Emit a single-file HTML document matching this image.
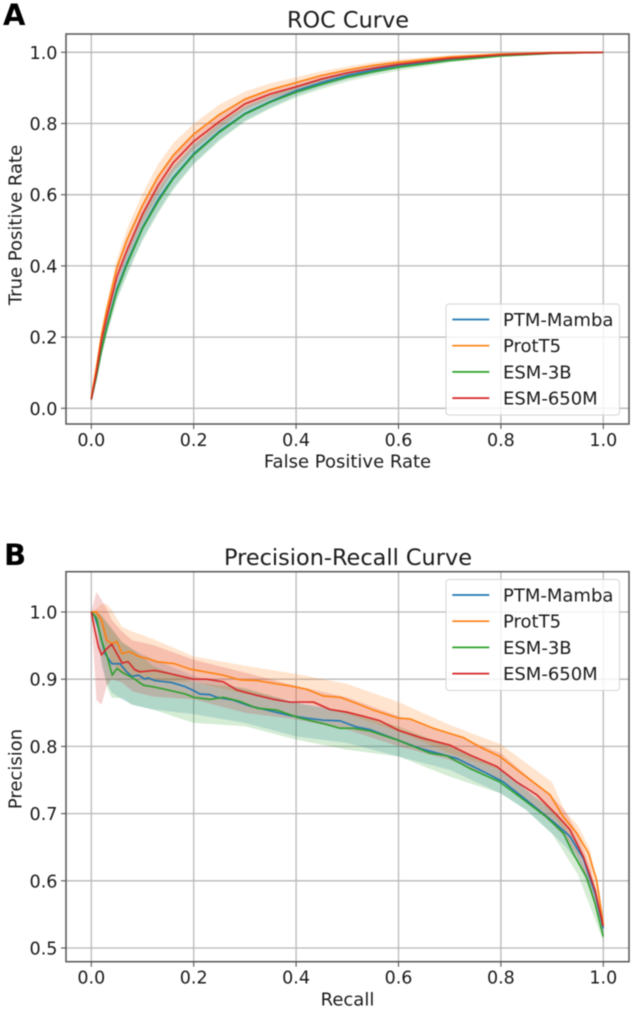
<!DOCTYPE html>
<html lang="en">
<head>
<meta charset="utf-8">
<title>ROC and Precision-Recall Curves</title>
<style>
html,body{margin:0;padding:0;background:#fff;width:633px;height:1009px;overflow:hidden}
svg{display:block;filter:blur(.4px)}
text{font-family:"DejaVu Sans","Liberation Sans",sans-serif;fill:#1a1a1a}
</style>
</head>
<body>
<svg id="figure" xmlns="http://www.w3.org/2000/svg" width="633" height="1009" viewBox="0 0 633 1009">
<text x="3" y="25" font-size="29" font-weight="bold" style="fill:#000">A</text>
<text x="4" y="565" font-size="29" font-weight="bold" style="fill:#000">B</text>
</svg>
<script>
const seriesNames = ['PTM-Mamba', 'ProtT5', 'ESM-3B', 'ESM-650M'];
const xTickValues = [0, 0.2, 0.4, 0.6, 0.8, 1];
const xTickLabels = ['0.0', '0.2', '0.4', '0.6', '0.8', '1.0'];
const rocYTickValues = [0, 0.2, 0.4, 0.6, 0.8, 1];
const rocYTickLabels = ['0.0', '0.2', '0.4', '0.6', '0.8', '1.0'];
const prYTickValues = [0.5, 0.6, 0.7, 0.8, 0.9, 1];
const prYTickLabels = ['0.5', '0.6', '0.7', '0.8', '0.9', '1.0'];

const rocFpr = [0,.01,.02,.03,.05,.07,.1,.13,.16,.2,.25,.3,.35,.4,.45,.5,.55,.6,.7,.8,.9,1];
const rocTprMamba = [.025,.09,.165,.228,.335,.41,.508,.585,.648,.715,.778,.828,.862,.892,.915,.935,.95,.963,.981,.992,.998,1];
const rocTprProtT5 = [.03,.115,.205,.275,.395,.475,.57,.65,.71,.77,.825,.868,.895,.915,.935,.95,.963,.972,.987,.995,.999,1];
const rocTprEsm3b = [.025,.09,.165,.225,.33,.405,.505,.58,.645,.712,.775,.826,.86,.888,.91,.93,.945,.958,.977,.99,.997,1];
const rocTprEsm650 = [.025,.1,.19,.255,.37,.445,.545,.625,.69,.75,.805,.855,.883,.903,.925,.942,.955,.966,.983,.993,.998,1];
const rocStdMamba = [.005,.012,.018,.021,.026,.03,.033,.033,.03,.027,.023,.02,.017,.014,.012,.011,.01,.008,.005,.003,.001,0];
const rocStdProtT5 = [.005,.012,.018,.02,.025,.03,.033,.035,.035,.03,.028,.022,.018,.015,.012,.01,.009,.008,.005,.003,.001,0];
const rocStdEsm3b = [.005,.012,.019,.022,.027,.031,.034,.034,.031,.027,.024,.021,.018,.015,.013,.012,.011,.01,.006,.003,.001,0];
const rocStdEsm650 = [.005,.012,.016,.018,.02,.024,.026,.028,.026,.024,.02,.017,.014,.012,.01,.009,.008,.007,.004,.002,.001,0];

const prRecallMamba = [0,.007,.017,.027,.04,.056,.069,.079,.092,.105,.111,.124,.157,.183,.2,.212,.232,.245,.277,.31,.343,.388,.421,.453,.486,.518,.544,.6,.642,.714,.772,.805,.85,.902,.935,.961,.984,1];
const prPrecisionMamba = [1,.993,.968,.938,.923,.923,.911,.904,.906,.9,.902,.898,.895,.889,.883,.878,.877,.873,.869,.86,.854,.846,.842,.839,.838,.829,.825,.809,.797,.782,.76,.747,.72,.688,.666,.633,.581,.529];
const prRecallProtT5 = [0,.01,.02,.03,.04,.05,.06,.075,.092,.108,.128,.163,.193,.258,.29,.323,.388,.421,.453,.486,.518,.551,.6,.622,.668,.727,.759,.798,.837,.896,.922,.948,.971,.987,1];
const prPrecisionProtT5 = [1,1,.988,.958,.953,.956,.938,.941,.934,.931,.926,.923,.915,.906,.899,.898,.89,.885,.875,.873,.864,.854,.842,.841,.827,.813,.799,.785,.762,.728,.695,.671,.641,.601,.535];
const prRecallEsm3b = [0,.01,.02,.03,.041,.05,.0625,.079,.102,.118,.144,.183,.2,.232,.258,.29,.323,.362,.408,.453,.486,.512,.544,.6,.661,.694,.74,.798,.837,.889,.922,.941,.967,.984,1];
const prPrecisionEsm3b = [1,.991,.958,.936,.906,.916,.909,.903,.891,.889,.885,.878,.873,.87,.873,.867,.857,.854,.842,.834,.827,.827,.823,.809,.79,.786,.767,.747,.725,.695,.671,.641,.606,.566,.517];
const prRecallEsm650 = [0,.007,.014,.02,.027,.04,.053,.06,.072,.085,.095,.124,.15,.183,.2,.225,.258,.284,.323,.356,.388,.434,.466,.499,.531,.564,.6,.648,.7,.74,.792,.831,.87,.909,.935,.961,.984,1];
const prPrecisionEsm650 = [1,.973,.948,.936,.943,.952,.934,.924,.926,.914,.911,.913,.909,.903,.9,.9,.896,.884,.876,.87,.866,.866,.855,.851,.845,.838,.824,.812,.802,.787,.77,.747,.728,.698,.676,.636,.586,.532];

const prBandRecall = [0,.01,.02,.03,.04,.06,.08,.12,.2,.3,.4,.5,.6,.7,.8,.85,.9,.925,.95,.975,1];
const prUpperMamba = [1,1,.995,.985,.975,.955,.945,.93,.905,.885,.865,.852,.825,.8,.765,.735,.705,.687,.658,.612,.533];
const prLowerMamba = [1,.985,.92,.895,.88,.87,.862,.855,.848,.835,.815,.805,.785,.765,.73,.705,.67,.652,.628,.585,.525];
const prUpperProtT5 = [1,1.005,1.012,1.012,1.003,.978,.971,.96,.934,.92,.908,.893,.866,.832,.803,.775,.747,.703,.683,.645,.54];
const prLowerProtT5 = [1,.99,.975,.945,.925,.91,.905,.897,.896,.878,.868,.848,.822,.79,.765,.74,.7,.675,.65,.61,.53];
const prUpperEsm3b = [1,1,.995,.985,.975,.955,.945,.92,.895,.887,.865,.85,.83,.8,.765,.735,.705,.68,.645,.598,.525];
const prLowerEsm3b = [1,.98,.93,.89,.872,.872,.862,.855,.835,.83,.81,.795,.785,.755,.73,.705,.67,.64,.61,.56,.51];
const prUpperEsm650 = [1,1.03,1.018,1.005,.988,.971,.958,.951,.929,.91,.89,.873,.845,.82,.79,.757,.725,.705,.67,.62,.537];
const prLowerEsm650 = [1,.869,.862,.89,.9,.895,.882,.874,.87,.85,.84,.825,.8,.78,.75,.717,.685,.665,.635,.59,.527];

const colors = ['#1f77b4', '#ff7f0e', '#2ca02c', '#d62728'];
const svg = document.getElementById('figure');
const NS = 'http://www.w3.org/2000/svg';

function make(tag, attrs, parent) {
  const el = document.createElementNS(NS, tag);
  for (const k in attrs) el.setAttribute(k, attrs[k]);
  (parent || svg).appendChild(el);
  return el;
}
function pts(xs, ys, sx, sy) {
  return xs.map((x, i) => sx(x).toFixed(2) + ',' + sy(ys[i]).toFixed(2));
}

function drawPanel(cfg) {
  const sx = v => 91.3 + 512 * v;
  const sy = cfg.sy;
  const L = 66, R = 629, T = cfg.top, B = cfg.bottom;
  const g = make('g', {});
  
  

  const clip = make('clipPath', {id: cfg.id + '-clip'}, g);
  make('rect', {x: L, y: T, width: R - L, height: B - T}, clip);

  const title = make('text', {x: 348, y: cfg.titleY, 'text-anchor': 'middle', 'font-size': 22.4}, g);
  title.textContent = cfg.title;
  
  

  xTickValues.forEach((v, i) => {
    const line = make('line', {x1: sx(v), x2: sx(v), y1: T, y2: B, stroke: '#b8b8b8', 'stroke-width': 1.3}, g);
    
    
    const tick = make('line', {x1: sx(v), x2: sx(v), y1: B, y2: B + 5, stroke: '#444', 'stroke-width': 1}, g);
    
    
    const label = make('text', {x: sx(v), y: B + 22, 'text-anchor': 'middle', 'font-size': 17.5}, g);
    label.textContent = xTickLabels[i];
    
    
  });
  cfg.yTicks.forEach((v, i) => {
    const line = make('line', {x1: L, x2: R, y1: sy(v), y2: sy(v), stroke: '#b8b8b8', 'stroke-width': 1.3}, g);
    
    
    const tick = make('line', {x1: L - 5, x2: L, y1: sy(v), y2: sy(v), stroke: '#444', 'stroke-width': 1}, g);
    
    
    const label = make('text', {x: 57.5, y: sy(v) + 6.5, 'text-anchor': 'end', 'font-size': 17.6}, g);
    label.textContent = cfg.yLabels[i];
    
    
  });

  const plot = make('g', {'clip-path': 'url(#' + cfg.id + '-clip)'}, g);
  cfg.series.forEach((s, i) => {
    const up = pts(s.bandX, s.upper, sx, sy);
    const lo = pts(s.bandX, s.lower, sx, sy).reverse();
    const band = make('polygon', {points: up.concat(lo).join(' '), fill: colors[i], 'fill-opacity': 0.2, stroke: 'none'}, plot);
    
    
  });
  cfg.series.forEach((s, i) => {
    const line = make('polyline', {points: pts(s.x, s.y, sx, sy).join(' '), fill: 'none', stroke: colors[i], 'stroke-width': 1.7, 'stroke-linejoin': 'round', 'stroke-opacity': 0.95}, plot);
    
    
  });

  const frame = make('rect', {x: L, y: T, width: R - L, height: B - T, fill: 'none', stroke: '#555', 'stroke-width': 1.5}, g);
  
  

  const xLabel = make('text', {x: 347.5, y: cfg.xLabelY, 'text-anchor': 'middle', 'font-size': 18}, g);
  xLabel.textContent = cfg.xLabel;
  
  
  const yLabel = make('text', {transform: 'translate(21.5,' + cfg.yLabelY + ') rotate(-90)', 'text-anchor': 'middle', 'font-size': 18}, g);
  yLabel.textContent = cfg.yLabel;
  
  

  const legend = make('g', {}, g);
  
  
  make('rect', {x: 446, y: cfg.legendTop, width: 173.5, height: 111, rx: 3, fill: '#fff', 'fill-opacity': 0.8, stroke: '#d4d4d4', 'stroke-width': 1}, legend);
  seriesNames.forEach((name, i) => {
    const rowY = cfg.legendTop + 15.5 + i * 26.2;
    const swatch = make('line', {x1: 452.3, x2: 489.3, y1: rowY, y2: rowY, stroke: colors[i], 'stroke-width': 1.7}, legend);
    
    
    const label = make('text', {x: 503, y: rowY + 6.5, 'font-size': 18}, legend);
    label.textContent = name;
    
    
  });
}

function withStd(mean, std) { return mean.map((m, i) => m + std[i]); }
function minusStd(mean, std) { return mean.map((m, i) => m - std[i]); }

drawPanel({
  id: 'roc', title: 'ROC Curve', titleY: 27.5, top: 34, bottom: 424,
  sy: v => 408.3 - 356 * v,
  yTicks: rocYTickValues, yLabels: rocYTickLabels,
  xLabel: 'False Positive Rate', xLabelY: 467.5,
  yLabel: 'True Positive Rate', yLabelY: 225,
  legendTop: 304,
  series: [
    {x: rocFpr, y: rocTprMamba, bandX: rocFpr, upper: withStd(rocTprMamba, rocStdMamba), lower: minusStd(rocTprMamba, rocStdMamba)},
    {x: rocFpr, y: rocTprProtT5, bandX: rocFpr, upper: withStd(rocTprProtT5, rocStdProtT5), lower: minusStd(rocTprProtT5, rocStdProtT5)},
    {x: rocFpr, y: rocTprEsm3b, bandX: rocFpr, upper: withStd(rocTprEsm3b, rocStdEsm3b), lower: minusStd(rocTprEsm3b, rocStdEsm3b)},
    {x: rocFpr, y: rocTprEsm650, bandX: rocFpr, upper: withStd(rocTprEsm650, rocStdEsm650), lower: minusStd(rocTprEsm650, rocStdEsm650)}
  ]
});

drawPanel({
  id: 'pr', title: 'Precision-Recall Curve', titleY: 565, top: 571.7, bottom: 961.7,
  sy: v => 612 + (1 - v) * 672,
  yTicks: prYTickValues, yLabels: prYTickLabels,
  xLabel: 'Recall', xLabelY: 1005.5,
  yLabel: 'Precision', yLabelY: 769,
  legendTop: 579.5,
  series: [
    {x: prRecallMamba, y: prPrecisionMamba, bandX: prBandRecall, upper: prUpperMamba, lower: prLowerMamba},
    {x: prRecallProtT5, y: prPrecisionProtT5, bandX: prBandRecall, upper: prUpperProtT5, lower: prLowerProtT5},
    {x: prRecallEsm3b, y: prPrecisionEsm3b, bandX: prBandRecall, upper: prUpperEsm3b, lower: prLowerEsm3b},
    {x: prRecallEsm650, y: prPrecisionEsm650, bandX: prBandRecall, upper: prUpperEsm650, lower: prLowerEsm650}
  ]
});
</script>
</body>
</html>
